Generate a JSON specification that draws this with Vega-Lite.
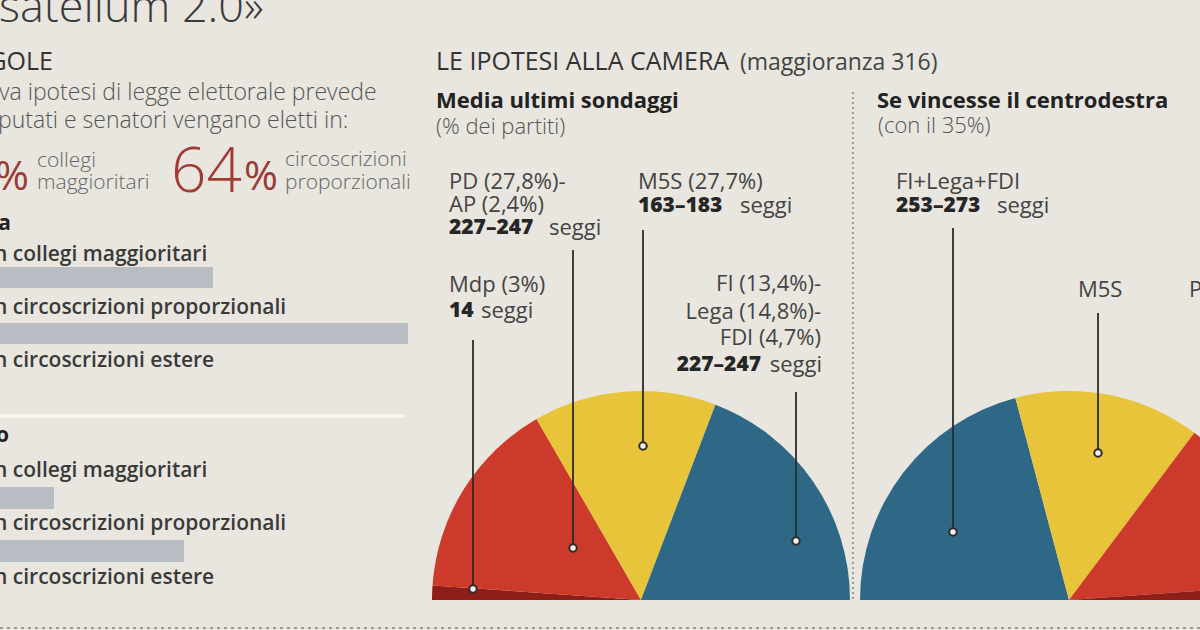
{
  "$schema": "https://vega.github.io/schema/vega-lite/v6.json",
  "width": 1200,
  "height": 630,
  "autosize": {"type": "none"},
  "padding": 0,
  "background": "#e8e6de",
  "config": {"view": {"stroke": null}, "font": "Open Sans"},
  "datasets": {
    "seats": [
      {"panel": "Media ultimi sondaggi", "party": "Mdp", "from": 0, "to": 14, "x": 641, "y": 600},
      {"panel": "Media ultimi sondaggi", "party": "PD-AP", "from": 14, "to": 210, "x": 641, "y": 600},
      {"panel": "Media ultimi sondaggi", "party": "M5S", "from": 210, "to": 388, "x": 641, "y": 600},
      {"panel": "Media ultimi sondaggi", "party": "FI-Lega-FDI", "from": 388, "to": 630, "x": 641, "y": 600},
      {"panel": "Se vincesse il centrodestra", "party": "FI-Lega-FDI", "from": 0, "to": 263, "x": 1069, "y": 600},
      {"panel": "Se vincesse il centrodestra", "party": "M5S", "from": 263, "to": 444, "x": 1069, "y": 600},
      {"panel": "Se vincesse il centrodestra", "party": "PD-AP", "from": 444, "to": 616, "x": 1069, "y": 600},
      {"panel": "Se vincesse il centrodestra", "party": "Mdp", "from": 616, "to": 630, "x": 1069, "y": 600}
    ],
    "leaders": [
      {"party": "Mdp", "x": 473, "y": 340, "y2": 589},
      {"party": "PD-AP", "x": 573, "y": 250, "y2": 548},
      {"party": "M5S", "x": 643, "y": 230, "y2": 446},
      {"party": "FI-Lega-FDI", "x": 796, "y": 392, "y2": 541},
      {"party": "FI-Lega-FDI 35%", "x": 953, "y": 228, "y2": 532},
      {"party": "M5S 35%", "x": 1098, "y": 313, "y2": 453}
    ],
    "bars": [
      {"house": "Camera", "seggi": "collegi maggioritari", "x": -5, "x2": 213, "y": 267, "y2": 288},
      {"house": "Camera", "seggi": "circoscrizioni proporzionali", "x": -5, "x2": 408, "y": 323, "y2": 344},
      {"house": "Senato", "seggi": "collegi maggioritari", "x": -5, "x2": 54, "y": 487, "y2": 509},
      {"house": "Senato", "seggi": "circoscrizioni proporzionali", "x": -5, "x2": 184, "y": 540, "y2": 562}
    ],
    "texts": [
      {"kind": "title", "t": "satellum 2.0»", "x": -1, "y": 22},
      {"kind": "sectionR", "t": "GOLE", "x": 53, "y": 62},
      {"kind": "section", "t": "LE IPOTESI ALLA CAMERA", "x": 436, "y": 62},
      {"kind": "note", "t": "(maggioranza 316)", "x": 740, "y": 63},
      {"kind": "body", "t": "va ipotesi di legge elettorale prevede", "x": -1, "y": 93},
      {"kind": "body", "t": "putati e senatori vengano eletti in:", "x": -2, "y": 121},
      {"kind": "big", "t": "64", "x": 171, "y": 192},
      {"kind": "pct", "t": "%", "x": 244, "y": 190},
      {"kind": "pct", "t": "%", "x": -5, "y": 190},
      {"kind": "small", "t": "collegi", "x": 37, "y": 161},
      {"kind": "small", "t": "maggioritari", "x": 37, "y": 183},
      {"kind": "small", "t": "circoscrizioni", "x": 285, "y": 160},
      {"kind": "small", "t": "proporzionali", "x": 285, "y": 183},
      {"kind": "head", "t": "Camera", "x": 11, "y": 224},
      {"kind": "head", "t": "Senato", "x": 9, "y": 436},
      {"kind": "row", "t": "n collegi maggioritari", "x": -6, "y": 255},
      {"kind": "row", "t": "n circoscrizioni proporzionali", "x": -6, "y": 308},
      {"kind": "row", "t": "n circoscrizioni estere", "x": -6, "y": 361},
      {"kind": "row", "t": "n collegi maggioritari", "x": -6, "y": 471},
      {"kind": "row", "t": "n circoscrizioni proporzionali", "x": -6, "y": 524},
      {"kind": "row", "t": "n circoscrizioni estere", "x": -6, "y": 578},
      {"kind": "sub", "t": "Media ultimi sondaggi", "x": 436, "y": 101},
      {"kind": "sub", "t": "Se vincesse il centrodestra", "x": 877, "y": 101},
      {"kind": "subnote", "t": "(% dei partiti)", "x": 436, "y": 127},
      {"kind": "subnote", "t": "(con il 35%)", "x": 878, "y": 126},
      {"kind": "label", "t": "PD (27,8%)-", "x": 449, "y": 182},
      {"kind": "label", "t": "AP (2,4%)", "x": 449, "y": 205},
      {"kind": "label", "t": "M5S (27,7%)", "x": 638, "y": 182},
      {"kind": "label", "t": "Mdp (3%)", "x": 449, "y": 285},
      {"kind": "label", "t": "FI+Lega+FDI", "x": 896, "y": 182},
      {"kind": "label", "t": "M5S", "x": 1078, "y": 290},
      {"kind": "label", "t": "PD-AP", "x": 1189, "y": 290},
      {"kind": "label", "t": "seggi", "x": 549, "y": 228},
      {"kind": "label", "t": "seggi", "x": 740, "y": 206},
      {"kind": "label", "t": "seggi", "x": 481, "y": 311},
      {"kind": "label", "t": "seggi", "x": 997, "y": 206},
      {"kind": "num", "t": "227–247", "x": 449, "y": 228},
      {"kind": "num", "t": "163–183", "x": 638, "y": 206},
      {"kind": "num", "t": "14", "x": 449, "y": 311},
      {"kind": "num", "t": "253–273", "x": 896, "y": 206},
      {"kind": "labelR", "t": "FI (13,4%)-", "x": 821, "y": 284},
      {"kind": "labelR", "t": "Lega (14,8%)-", "x": 821, "y": 312},
      {"kind": "labelR", "t": "FDI (4,7%)", "x": 821, "y": 338},
      {"kind": "labelR", "t": "seggi", "x": 822, "y": 365},
      {"kind": "numR", "t": "227–247", "x": 761, "y": 365}
    ]
  },
  "encoding": {
    "x": {"field": "x", "type": "quantitative", "scale": {"domain": [0, 1200], "nice": false, "zero": false}, "axis": null},
    "y": {"field": "y", "type": "quantitative", "scale": {"domain": [0, 630], "nice": false, "zero": false, "reverse": true}, "axis": null}
  },
  "layer": [
    {
      "data": {"name": "bars"},
      "mark": {"type": "rect", "color": "#b8bcc3"},
      "encoding": {"x2": {"field": "x2"}, "y2": {"field": "y2"}}
    },
    {
      "data": {"values": [{"line": "separatore", "x": -5, "x2": 405, "y": 416}]},
      "mark": {"type": "rule", "color": "#f8f7f2", "strokeWidth": 3},
      "encoding": {"x2": {"field": "x2"}}
    },
    {
      "data": {"values": [{"line": "base", "x": 0, "x2": 1200, "y": 628}]},
      "mark": {"type": "rule", "color": "#9d9d98", "strokeWidth": 2, "strokeDash": [3, 4]},
      "encoding": {"x2": {"field": "x2"}}
    },
    {
      "data": {"values": [{"line": "divisore", "x": 853, "y": 92, "y2": 602}]},
      "mark": {"type": "rule", "color": "#9d9d98", "strokeWidth": 2, "strokeDash": [2, 3]},
      "encoding": {"y2": {"field": "y2"}}
    },
    {
      "data": {"name": "seats"},
      "mark": {"type": "arc", "radius": 209},
      "encoding": {
        "theta": {"field": "from", "type": "quantitative", "stack": null, "scale": {"domain": [0, 630], "range": [-1.5708, 1.5708]}},
        "theta2": {"field": "to"},
        "color": {"field": "party", "type": "nominal", "legend": null,
          "scale": {"domain": ["Mdp", "PD-AP", "M5S", "FI-Lega-FDI"], "range": ["#8e1f18", "#cc3a2b", "#e8c43a", "#2f6786"]}}
      }
    },
    {
      "data": {"name": "leaders"},
      "mark": {"type": "rule", "color": "#2b2b2b", "strokeWidth": 2, "opacity": 0.9},
      "encoding": {"y2": {"field": "y2"}}
    },
    {
      "data": {"name": "leaders"},
      "mark": {"type": "point", "filled": true, "fill": "#f6f3ea", "stroke": "#2b2b2b", "strokeWidth": 2, "size": 55, "opacity": 1},
      "encoding": {"y": {"field": "y2", "type": "quantitative"}}
    },
    {
      "data": {"name": "texts"},
      "transform": [{"filter": "datum.kind == 'title'"}],
      "mark": {"type": "text", "align": "left", "baseline": "alphabetic", "fontSize": 45, "fontWeight": 300, "color": "#3a3a3a"},
      "encoding": {"text": {"field": "t"}}
    },
    {
      "data": {"name": "texts"},
      "transform": [{"filter": "datum.kind == 'section'"}],
      "mark": {"type": "text", "align": "left", "baseline": "middle", "fontSize": 25, "fontWeight": 400, "color": "#333333"},
      "encoding": {"text": {"field": "t"}}
    },
    {
      "data": {"name": "texts"},
      "transform": [{"filter": "datum.kind == 'sectionR'"}],
      "mark": {"type": "text", "align": "right", "baseline": "middle", "fontSize": 25, "fontWeight": 400, "color": "#333333"},
      "encoding": {"text": {"field": "t"}}
    },
    {
      "data": {"name": "texts"},
      "transform": [{"filter": "datum.kind == 'note'"}],
      "mark": {"type": "text", "align": "left", "baseline": "middle", "fontSize": 23, "fontWeight": 400, "color": "#444444"},
      "encoding": {"text": {"field": "t"}}
    },
    {
      "data": {"name": "texts"},
      "transform": [{"filter": "datum.kind == 'body'"}],
      "mark": {"type": "text", "align": "left", "baseline": "middle", "fontSize": 23, "fontWeight": 300, "color": "#555555"},
      "encoding": {"text": {"field": "t"}}
    },
    {
      "data": {"name": "texts"},
      "transform": [{"filter": "datum.kind == 'big'"}],
      "mark": {"type": "text", "align": "left", "baseline": "alphabetic", "fontSize": 62, "fontWeight": 300, "color": "#a23a34"},
      "encoding": {"text": {"field": "t"}}
    },
    {
      "data": {"name": "texts"},
      "transform": [{"filter": "datum.kind == 'pct'"}],
      "mark": {"type": "text", "align": "left", "baseline": "alphabetic", "fontSize": 41, "fontWeight": 400, "color": "#9a3a34"},
      "encoding": {"text": {"field": "t"}}
    },
    {
      "data": {"name": "texts"},
      "transform": [{"filter": "datum.kind == 'small'"}],
      "mark": {"type": "text", "align": "left", "baseline": "middle", "fontSize": 21, "fontWeight": 300, "color": "#666666"},
      "encoding": {"text": {"field": "t"}}
    },
    {
      "data": {"name": "texts"},
      "transform": [{"filter": "datum.kind == 'head'"}],
      "mark": {"type": "text", "align": "right", "baseline": "middle", "fontSize": 21, "fontWeight": 700, "color": "#222222"},
      "encoding": {"text": {"field": "t"}}
    },
    {
      "data": {"name": "texts"},
      "transform": [{"filter": "datum.kind == 'row'"}],
      "mark": {"type": "text", "align": "left", "baseline": "middle", "fontSize": 21, "fontWeight": 600, "color": "#3a3a3a"},
      "encoding": {"text": {"field": "t"}}
    },
    {
      "data": {"name": "texts"},
      "transform": [{"filter": "datum.kind == 'sub'"}],
      "mark": {"type": "text", "align": "left", "baseline": "middle", "fontSize": 22, "fontWeight": 700, "color": "#222222"},
      "encoding": {"text": {"field": "t"}}
    },
    {
      "data": {"name": "texts"},
      "transform": [{"filter": "datum.kind == 'subnote'"}],
      "mark": {"type": "text", "align": "left", "baseline": "middle", "fontSize": 22, "fontWeight": 300, "color": "#555555"},
      "encoding": {"text": {"field": "t"}}
    },
    {
      "data": {"name": "texts"},
      "transform": [{"filter": "datum.kind == 'label'"}],
      "mark": {"type": "text", "align": "left", "baseline": "middle", "fontSize": 22, "fontWeight": 400, "color": "#444444"},
      "encoding": {"text": {"field": "t"}}
    },
    {
      "data": {"name": "texts"},
      "transform": [{"filter": "datum.kind == 'num'"}],
      "mark": {"type": "text", "align": "left", "baseline": "middle", "fontSize": 21, "fontWeight": 800, "color": "#262626"},
      "encoding": {"text": {"field": "t"}}
    },
    {
      "data": {"name": "texts"},
      "transform": [{"filter": "datum.kind == 'labelR'"}],
      "mark": {"type": "text", "align": "right", "baseline": "middle", "fontSize": 22, "fontWeight": 400, "color": "#444444"},
      "encoding": {"text": {"field": "t"}}
    },
    {
      "data": {"name": "texts"},
      "transform": [{"filter": "datum.kind == 'numR'"}],
      "mark": {"type": "text", "align": "right", "baseline": "middle", "fontSize": 21, "fontWeight": 800, "color": "#262626"},
      "encoding": {"text": {"field": "t"}}
    }
  ]
}
